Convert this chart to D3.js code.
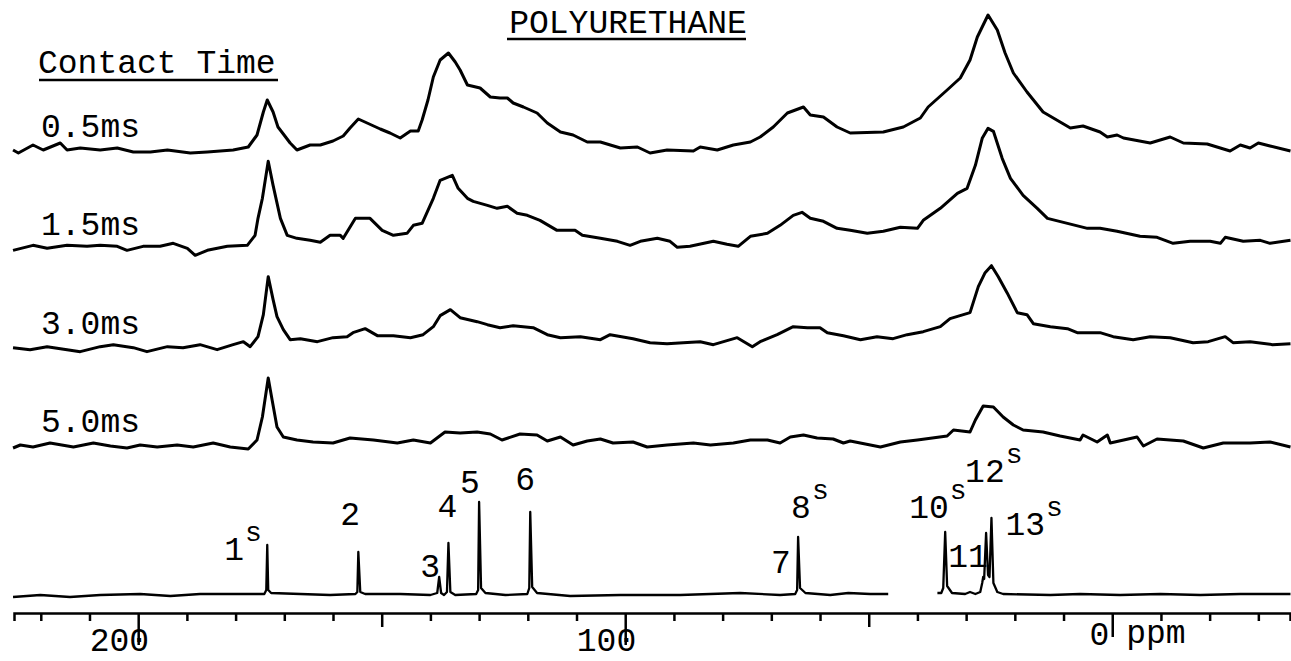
<!DOCTYPE html>
<html>
<head>
<meta charset="utf-8">
<title>Polyurethane</title>
<script src="https://d3js.org/d3.v7.min.js"></script>
<style>
  body { margin: 0; background: #fff; }
  svg text { font-family: "Liberation Mono", "DejaVu Sans Mono", monospace; fill: #000; }
</style>
</head>
<body>
<script>
var w = 1291;
var h = 661;

// spectra: [ppm, intensity]
var contactTimes = ["0.5ms", "1.5ms", "3.0ms", "5.0ms"];

var trace05 = [[225.7,0],[224.6,-3],[221.6,5],[219.5,0],[216.0,7],[214.6,0],[211.9,2],[207.8,0],[204.3,2],[201.0,-2],
  [197.5,-2],[194.0,0],[189.3,-3],[185.8,-2],[180.5,0],[177.4,3],[175.6,15],[174.3,38],[173.5,50],[172.3,38],
  [171.3,23],[170.2,16],[168.8,7],[167.4,0],[164.7,5],[162.6,5],[160.0,9],[157.9,14],[156.5,22],[154.8,31],
  [153.0,27],[150.3,21],[148.3,17],[146.2,12],[144.1,19],[142.5,19],[141.7,30],[140.5,50],[139.4,73],[138.0,90],
  [136.3,97],[134.9,88],[133.9,80],[132.4,65],[129.8,62],[127.7,53],[125.7,52],[124.2,52],[123.0,47],[120.9,43],
  [118.1,37],[116.0,27],[113.3,18],[110.7,15],[107.8,8],[105.1,8],[101.0,2],[97.5,3],[94.9,-3],[91.4,0],
  [86.0,-1],[84.6,3],[81.1,0],[77.8,5],[74.3,8],[72.3,13],[69.6,23],[66.7,37],[63.4,43],[62.0,35],
  [59.3,33],[56.5,23],[53.8,17],[47.0,18],[42.9,23],[39.4,32],[37.8,43],[33.9,60],[31.2,72],[29.2,90],
  [27.7,113],[25.5,135],[23.6,120],[22.0,97],[20.3,77],[17.5,58],[14.2,38],[10.7,28],[8.6,22],[6.0,24],
  [2.5,18],[1.0,13],[-1.0,15],[-2.3,12],[-7.8,7],[-11.9,13],[-14.6,7],[-19.5,6],[-24.2,-1],[-26.3,5],
  [-28.3,2],[-30.0,7],[-32.4,4],[-36.6,-1]];

var trace15 = [[225.7,-2],[221.6,3],[218.7,0],[214.6,3],[210.5,2],[207.8,3],[204.3,2],[202.3,-2],[199.0,2],[195.5,2],
  [192.8,5],[189.9,0],[188.3,-7],[185.8,-2],[181.7,2],[177.6,3],[176.0,13],[175.4,30],[174.5,50],[173.3,87],
  [172.3,63],[170.8,30],[169.4,13],[167.4,10],[164.7,8],[162.6,6],[160.6,13],[158.5,13],[157.9,10],[155.4,30],
  [152.4,30],[149.9,18],[147.6,13],[144.8,15],[143.5,23],[141.7,25],[139.4,50],[138.0,68],[135.5,73],[134.3,60],
  [132.4,50],[131.2,47],[128.3,43],[126.3,40],[124.2,42],[122.2,35],[120.1,33],[117.5,28],[114.0,18],[110.3,18],
  [108.8,13],[105.1,10],[101.6,7],[99.0,3],[96.9,7],[93.4,10],[90.8,7],[89.3,1],[86.7,2],[81.9,7],
  [79.1,4],[76.8,2],[74.3,12],[70.8,15],[68.2,23],[65.5,33],[63.7,36],[62.0,30],[59.3,27],[56.5,20],
  [53.8,18],[50.3,15],[47.0,17],[43.5,21],[40.0,20],[38.8,28],[35.3,40],[31.8,55],[29.8,60],[28.1,83],
  [26.7,110],[25.5,120],[24.4,117],[22.6,90],[20.9,70],[18.3,53],[15.4,40],[13.3,30],[9.2,25],[5.1,20],
  [2.5,20],[-1.0,17],[-5.7,12],[-9.2,11],[-12.5,5],[-16.0,7],[-20.1,7],[-22.2,5],[-23.2,11],[-26.9,7],
  [-30.4,8],[-32.4,5],[-36.6,8]];

var trace30 = [[225.7,-1],[222.2,-3],[218.7,0],[214.6,-3],[211.9,-5],[207.8,0],[205.1,2],[201.0,-1],[198.2,-5],[194.0,0],
  [190.8,-1],[187.3,2],[183.8,-3],[180.5,2],[178.4,5],[177.0,0],[175.4,10],[174.3,32],[173.3,70],[172.3,47],
  [171.5,30],[170.2,17],[168.8,7],[166.7,8],[163.2,5],[160.0,9],[157.1,10],[155.9,14],[153.4,18],[150.9,11],
  [147.6,11],[144.1,9],[141.5,12],[139.4,20],[138.0,31],[135.9,37],[133.9,29],[130.4,25],[128.3,22],[125.7,19],
  [123.0,21],[118.9,19],[116.0,12],[113.3,9],[109.2,10],[105.1,7],[103.1,12],[98.4,8],[94.9,4],[91.4,3],
  [88.1,4],[84.6,5],[81.9,2],[77.0,9],[73.9,0],[72.3,5],[68.8,12],[65.5,20],[62.6,19],[60.0,19],
  [58.5,14],[55.2,11],[51.7,7],[48.3,10],[45.0,8],[42.1,12],[38.8,15],[35.3,20],[33.3,28],[29.2,34],
  [27.5,60],[26.1,74],[24.8,81],[23.4,70],[21.6,54],[19.5,34],[17.5,32],[16.2,23],[12.7,20],[9.2,18],
  [7.2,14],[2.5,14],[-0.2,10],[-4.3,7],[-7.8,10],[-11.9,9],[-16.6,4],[-19.7,5],[-23.2,10],[-24.8,4],
  [-28.3,5],[-32.9,2],[-36.6,3]];

var trace50 = [[225.7,-3],[224.2,0],[221.6,-2],[218.1,2],[213.3,-2],[209.2,2],[205.7,-1],[202.3,-3],[199.6,0],[196.1,-2],
  [192.0,0],[188.7,-2],[184.6,2],[181.1,-2],[177.4,-4],[175.6,5],[174.5,28],[173.3,67],[172.5,45],[171.5,18],
  [170.2,8],[167.4,5],[164.1,3],[160.0,2],[156.5,7],[151.7,5],[146.8,2],[143.5,5],[140.0,2],[137.0,13],
  [133.9,12],[130.4,13],[127.7,11],[125.3,5],[121.6,11],[118.1,10],[116.0,4],[113.3,8],[110.7,0],[107.8,4],
  [105.1,6],[102.5,2],[98.4,3],[95.5,-2],[91.4,0],[86.0,2],[82.5,0],[77.8,2],[74.3,5],[70.8,5],
  [68.2,2],[66.1,8],[63.4,10],[60.6,7],[57.3,6],[55.2,2],[53.8,4],[47.6,-2],[43.5,3],[40.0,5],
  [33.9,9],[32.6,15],[29.2,13],[28.1,25],[26.5,39],[24.4,38],[22.4,28],[20.3,20],[18.3,15],[14.2,13],
  [10.7,9],[6.6,5],[6.0,10],[3.1,3],[1.0,10],[0.4,2],[-5.1,8],[-6.4,-1],[-9.2,6],[-14.6,4],
  [-18.7,-3],[-22.8,2],[-28.3,2],[-32.4,3],[-36.6,-2]];

var traces = [trace05, trace15, trace30, trace50];

// solution spectrum (bottom), drawn in two pieces
var refLeft = [[225.7,-2],[220.1,0],[214.0,-2],[207.8,0],[199.6,1],[193.4,-1],[187.3,1],[181.1,1],[176.0,1],
  [174.1,1],[173.7,5],[173.5,50],[173.3,5],[172.7,2],[166.7,1],[160.6,0],[155.4,1],
  [155.0,3],[154.8,43],[154.4,3],[153.4,1],[146.2,1],[140.0,0],
  [138.6,2],[138.2,18],[137.8,2],[137.2,0],[136.6,3],[136.3,52],[135.9,3],[134.9,0],
  [130.6,1],[130.2,5],[130.0,93],[129.6,7],[128.7,2],[124.6,0],
  [120.1,1],[119.7,7],[119.5,83],[119.1,8],[118.1,2],[111.3,-1],[101.0,0],[88.7,0],[76.4,2],[68.2,0],
  [65.1,1],[64.7,5],[64.5,58],[64.1,7],[63.0,2],[57.9,0],[54.2,2],[49.7,1],[46.0,1]];

var refRight = [[35.9,2],[35.1,2],[34.7,7],[34.3,63],[33.9,9],[32.9,2],[30.2,1],[29.2,3],[28.1,1],
  [27.1,3],[26.7,12],[26.5,18],[26.3,16],[25.9,62],[25.5,20],[25.2,18],[24.8,77],[24.4,12],[23.6,3],[22.4,1],
  [12.7,0],[6.6,1],[-1.6,0],[-9.9,1],[-18.1,0],[-26.3,1],[-36.6,1]];

var peakLabels = [
  {ppm: 173.5, height: 50, num: "1", sup: "s"},
  {ppm: 154.8, height: 43, num: "2", sup: ""},
  {ppm: 138.2, height: 18, num: "3", sup: ""},
  {ppm: 136.3, height: 52, num: "4", sup: ""},
  {ppm: 130.0, height: 93, num: "5", sup: ""},
  {ppm: 119.5, height: 83, num: "6", sup: ""},
  {ppm: 64.5, height: 58, num: "7", sup: ""},
  {ppm: 64.5, height: 58, num: "8", sup: "s"},
  {ppm: 34.3, height: 63, num: "10", sup: "s"},
  {ppm: 26.5, height: 18, num: "11", sup: ""},
  {ppm: 25.9, height: 62, num: "12", sup: "s"},
  {ppm: 24.8, height: 77, num: "13", sup: "s"}
];

var axisTicks = [220, 210, 200, 190, 180, 170, 160, 150, 140, 130, 120, 110, 100,
  90, 80, 70, 60, 50, 40, 30, 20, 10, 0, -10, -20, -30];
var axisLabels = [200, 100, 0];

// label placement relative to the peak tip (pixels)
var labelOffsets = {
  "1": [-43, 15], "2": [-18, -27], "3": [-19, 0], "4": [-11, -26], "5": [-19, -9], "6": [-15, -22],
  "7": [-27, 36], "8": [-7, -19], "10": [-36, -14], "11": [-35, -10], "12": [-21, -51], "13": [14, 17]
};

var fs = 33;

var x = d3.scaleLinear().domain([225.5, -36.5]).range([14, 1290]);
var y = d3.scaleLinear().domain([0, 100]).range([0, -100]);
var rowY = d3.scaleLinear().domain([0, 3]).range([150, 445]);
var refBase = 595;
var axisY = 613;

var line = d3.line()
  .x(function (d) { return x(d[0]); })
  .y(function (d) { return y(d[1]); });

var svg = d3.select("body")
  .append("svg")
    .attr("width", w)
    .attr("height", h);

svg.append("rect")
  .attr("width", w)
  .attr("height", h)
  .attr("fill", "#fff");

// title and header
svg.append("text")
  .attr("x", 628)
  .attr("y", 33)
  .attr("text-anchor", "middle")
  .attr("font-size", fs)
  .text("POLYURETHANE");
svg.append("line")
  .attr("x1", 507).attr("x2", 746)
  .attr("y1", 39).attr("y2", 39)
  .attr("stroke", "#000").attr("stroke-width", 2.5);

svg.append("text")
  .attr("x", 38)
  .attr("y", 73)
  .attr("font-size", fs)
  .text("Contact Time");
svg.append("line")
  .attr("x1", 39).attr("x2", 278)
  .attr("y1", 80).attr("y2", 80)
  .attr("stroke", "#000").attr("stroke-width", 2.5);

// stacked CP spectra
var rows = svg.selectAll("g.row")
  .data(traces)
  .enter().append("g")
    .attr("class", "row")
    .attr("transform", function (d, i) { return "translate(0," + rowY(i) + ")"; });

rows.append("path")
  .attr("d", line)
  .attr("fill", "none")
  .attr("stroke", "#000")
  .attr("stroke-width", 3)
  .attr("stroke-linejoin", "round");

rows.append("text")
  .attr("x", 41)
  .attr("y", -13)
  .attr("font-size", fs)
  .text(function (d, i) { return contactTimes[i]; });

// bottom reference spectrum
var ref = svg.append("g")
  .attr("transform", "translate(0," + refBase + ")");

ref.selectAll("path")
  .data([refLeft, refRight])
  .enter().append("path")
    .attr("d", line)
    .attr("fill", "none")
    .attr("stroke", "#000")
    .attr("stroke-width", 2.3)
    .attr("stroke-linejoin", "round");

var lbl = ref.selectAll("text.peak")
  .data(peakLabels)
  .enter().append("text")
    .attr("class", "peak")
    .attr("font-size", fs)
    .attr("x", function (d) { return x(d.ppm) + labelOffsets[d.num][0]; })
    .attr("y", function (d) { return y(d.height) + labelOffsets[d.num][1]; })
    .text(function (d) { return d.num; });

lbl.filter(function (d) { return d.sup; })
  .append("tspan")
    .attr("font-size", 28)
    .attr("dx", 1)
    .attr("dy", -19)
    .text(function (d) { return d.sup; });

// ppm axis
var axis = d3.axisBottom(x)
  .tickValues(axisTicks)
  .tickSizeOuter(0)
  .tickSize(8)
  .tickFormat(function () { return ""; });

var ax = svg.append("g")
  .attr("transform", "translate(0," + axisY + ")")
  .call(axis);

ax.select(".domain").attr("stroke-width", 2.5);
ax.selectAll(".tick line")
  .attr("stroke-width", 2.5)
  .attr("y2", function (d) {
    if (d === 200 || d === 100) return 32;
    if (d === 0) return 24;
    if (d === 150 || d === 50) return 14;
    return 8;
  });

svg.selectAll("text.axl")
  .data(axisLabels)
  .enter().append("text")
    .attr("class", "axl")
    .attr("font-size", fs)
    .attr("text-anchor", "end")
    .attr("x", function (d) { return d === 0 ? x(d) - 3 : x(d) + 11; })
    .attr("y", function (d) { return d === 0 ? 645 : 651; })
    .text(function (d) { return d; });

svg.append("text")
  .attr("x", x(0) + 14)
  .attr("y", 643)
  .attr("font-size", fs)
  .text("ppm");
</script>
</body>
</html>
